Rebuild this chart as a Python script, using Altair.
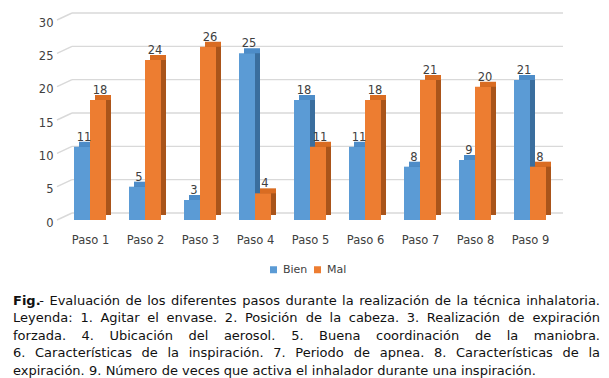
import json
import unicodedata
import altair as alt
import pandas as pd

# ---------------- data ----------------
pasos = ["Paso 1", "Paso 2", "Paso 3", "Paso 4", "Paso 5", "Paso 6", "Paso 7", "Paso 8", "Paso 9"]
series = ["Bien", "Mal"]
bien = [11, 5, 3, 25, 18, 11, 8, 9, 21]
mal = [18, 24, 26, 4, 11, 18, 21, 20, 8]
y_ticks = [0, 5, 10, 15, 20, 25, 30]

caption_lines = [
    "Fig.- Evaluación de los diferentes pasos durante la realización de la técnica inhalatoria.",
    "Leyenda: 1. Agitar el envase. 2. Posición de la cabeza. 3. Realización de expiración",
    "forzada. 4. Ubicación del aerosol. 5. Buena coordinación de la maniobra.",
    "6. Características de la inspiración. 7. Periodo de apnea. 8. Características de la",
    "expiración. 9. Número de veces que activa el inhalador durante una inspiración.",
]

# ---------------- styling ----------------
FONT = "DejaVu Sans"
TXT = "#404040"
front_colors = ["#5b9bd5", "#ed7d31"]
top_colors = ["#4d8cc8", "#d96c22"]
side_colors = ["#3a6e9e", "#a9541a"]
W, H = 506, 200
PX_PER_UNIT = 55.0
HW = 16 / PX_PER_UNIT  # bar width in x units
DEPTH = 5

rows = []
for i, p in enumerate(pasos):
    rows.append({"paso": p, "idx": i, "serie": "Bien", "value": bien[i]})
    rows.append({"paso": p, "idx": i, "serie": "Mal", "value": mal[i]})
df = pd.DataFrame(rows)
grid_df = pd.DataFrame({"v": y_ticks})

xs = alt.Scale(domain=[-0.6, 8.6], nice=False, zero=False)
ys = alt.Scale(domain=[0, 30], nice=False)

base = alt.Chart(df).transform_calculate(
    x0=f"datum.idx - (datum.serie == 'Bien' ? {HW} : 0)",
).transform_calculate(
    x1=f"datum.x0 + {HW}",
    xc=f"datum.x0 + {HW / 2}",
)

label_expr = json.dumps(pasos) + "[datum.value]"

x_axis = alt.Axis(values=list(range(len(pasos))), labelExpr=label_expr, domain=False,
                  ticks=False, tickSize=0, grid=False, labelPadding=14, labelFlush=False,
                  labelFontSize=11.5, labelColor=TXT, labelFont=FONT, title=None)
y_axis = alt.Axis(values=y_ticks, domain=False, ticks=False, tickSize=0, grid=False,
                  labelPadding=4, labelOffset=3, labelFlush=False, labelFontSize=11.5,
                  labelColor=TXT, labelFont=FONT, title=None)

grid_h = alt.Chart(grid_df).mark_rule(color="#d9d9d9", strokeWidth=1.4, yOffset=-7).encode(
    x=alt.value(15), x2=alt.value(W), y=alt.Y("v:Q", scale=ys, axis=y_axis)
)
grid_s = alt.Chart(grid_df).mark_rule(color="#d9d9d9", strokeWidth=1.4, y2Offset=-7).encode(
    x=alt.value(0), x2=alt.value(15), y=alt.Y("v:Q", scale=ys, axis=y_axis), y2=alt.Y2("v")
)

def cond_color(cols):
    return alt.condition(alt.datum.serie == "Bien", alt.value(cols[0]), alt.value(cols[1]))

def xy(xfield):
    return dict(
        x=alt.X(f"{xfield}:Q", scale=xs, axis=x_axis),
        y=alt.Y("value:Q", scale=ys, axis=y_axis),
    )

top = base.mark_bar(xOffset=DEPTH, x2Offset=DEPTH, yOffset=-DEPTH, y2Offset=-DEPTH).encode(
    **xy("x0"), x2="x1:Q", y2=alt.datum(0), color=cond_color(top_colors),
)
side = base.mark_bar(xOffset=DEPTH, x2Offset=DEPTH, y2Offset=-DEPTH).encode(
    **xy("x0"), x2="x1:Q", y2=alt.datum(0), color=cond_color(side_colors),
)
front = base.mark_bar().encode(
    **xy("x0"), x2="x1:Q", y2=alt.datum(0),
    color=alt.Color("serie:N", scale=alt.Scale(domain=series, range=front_colors),
                    legend=alt.Legend(orient="none", legendX=211, legendY=244,
                                      direction="horizontal", title=None,
                                      symbolType="square", symbolSize=49,
                                      symbolStrokeWidth=0, labelFontSize=11,
                                      labelFont=FONT, labelColor=TXT, padding=0,
                                      columnPadding=4, labelOffset=4)),
)
values = base.mark_text(dx=2, dy=-6, baseline="alphabetic", fontSize=11.5,
                        color=TXT, font=FONT).encode(
    **xy("xc"), text="value:Q",
)

# ---------------- caption layout (justified) ----------------
CW = {
    " ": .318, ",": .318, "-": .361, ".": .318, ":": .337,
    "A": .684, "B": .686, "C": .698, "D": .770, "E": .632, "F": .575, "G": .775,
    "H": .752, "I": .295, "L": .557, "M": .863, "N": .748, "O": .787, "P": .603,
    "R": .695, "S": .635, "T": .611, "U": .732, "V": .684, "Y": .611,
    "a": .613, "b": .635, "c": .550, "d": .635, "e": .615, "f": .352, "g": .635,
    "h": .634, "i": .278, "j": .278, "k": .579, "l": .278, "m": .974, "n": .634,
    "o": .612, "p": .635, "q": .635, "r": .411, "s": .521, "t": .392, "u": .634,
    "v": .592, "w": .818, "x": .592, "y": .592, "z": .525,
}
for d in "0123456789":
    CW[d] = .636
CAP_SIZE = 13

def tw(s, bold=False):
    tot = 0.0
    for ch in s:
        base_ch = unicodedata.normalize("NFD", ch)[0]
        tot += CW.get(base_ch, .6)
    return tot * CAP_SIZE * (1.12 if bold else 1.0)

LEFT, RIGHT = -44, 543
line_y = [284.5, 302, 319.5, 337, 354.5]
cap_rows = []
for li, line in enumerate(caption_lines):
    words = line.split(" ")
    widths = []
    for w in words:
        if w == "Fig.-":
            widths.append(tw("Fig.", True) + tw("-"))
        else:
            widths.append(tw(w))
    last = li == len(caption_lines) - 1
    gap = tw(" ") if last else (RIGHT - LEFT - sum(widths)) / (len(words) - 1)
    x = LEFT
    for wi, w in enumerate(words):
        if w == "Fig.-":
            cap_rows.append({"t": "Fig.", "px": x, "py": line_y[li], "kind": "bold"})
            cap_rows.append({"t": "-", "px": x + tw("Fig.", True), "py": line_y[li], "kind": "left"})
        elif (not last) and wi == len(words) - 1:
            cap_rows.append({"t": w, "px": RIGHT, "py": line_y[li], "kind": "right"})
        else:
            cap_rows.append({"t": w, "px": x, "py": line_y[li], "kind": "left"})
        x += widths[wi] + gap
cap_df = pd.DataFrame(cap_rows)

def cap_layer(kind, align, weight):
    return alt.Chart(cap_df).transform_filter(alt.datum.kind == kind).mark_text(
        align=align, baseline="alphabetic", fontSize=CAP_SIZE, font=FONT,
        color="#111111", fontWeight=weight,
    ).encode(
        x=alt.X("px:Q", scale=None),
        y=alt.Y("py:Q", scale=None),
        text="t:N",
    )

caption = cap_layer("left", "left", "normal") + cap_layer("right", "right", "normal") + \
    cap_layer("bold", "left", "bold")

chart = alt.layer(grid_h, grid_s, top, side, front, values, caption).properties(
    width=W, height=H,
    padding={"left": 49, "top": 12, "right": 38, "bottom": 158},
    autosize=alt.AutoSizeParams(type="none"),
    background="white",
).configure_view(stroke=None)

chart.save("out.html", embed_options={"renderer": "svg", "actions": False})
